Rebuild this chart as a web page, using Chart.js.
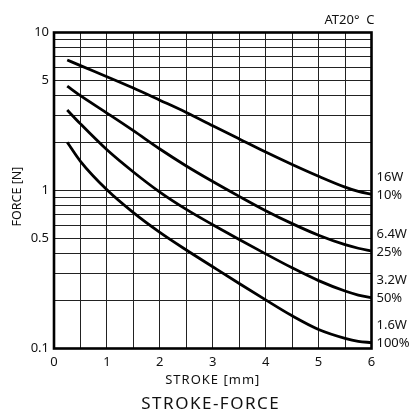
<!DOCTYPE html>
<html>
<head>
<meta charset="utf-8">
<script src="https://cdn.jsdelivr.net/npm/chart.js@4/dist/chart.umd.min.js"></script>
<style>
  html, body { margin: 0; padding: 0; background: #fff; }
  #wrap { width: 416px; height: 412px; }
</style>
</head>
<body>
<div id="wrap"><canvas id="c" width="416" height="412"></canvas></div>
<script>
// Stroke positions [mm] where each force curve is sampled
const stroke = [0.25, 0.5, 1, 1.5, 2, 2.5, 3, 3.5, 4, 4.5, 5, 5.5, 5.75, 6];

// Holding force [N] per power rating / duty cycle
const force16W = [6.70, 6.17, 5.25, 4.45, 3.73, 3.12, 2.57, 2.12, 1.75, 1.46, 1.23, 1.05, 0.986, 0.946];
const force6W4 = [4.58, 3.98, 3.09, 2.39, 1.83, 1.43, 1.14, 0.918, 0.745, 0.617, 0.521, 0.454, 0.431, 0.415];
const force3W2 = [3.23, 2.64, 1.81, 1.31, 0.977, 0.759, 0.607, 0.490, 0.397, 0.324, 0.269, 0.231, 0.218, 0.210];
const force1W6 = [2.02, 1.53, 1.01, 0.724, 0.543, 0.420, 0.329, 0.258, 0.203, 0.161, 0.132, 0.116, 0.111, 0.109];

const seriesNames = ['16W', '6.4W', '3.2W', '1.6W'];
const dutyCycles  = ['10%', '25%', '50%', '100%'];
const seriesData  = [force16W, force6W4, force3W2, force1W6];

// Axis ticks
const xTicks = [0, 0.5, 1, 1.5, 2, 2.5, 3, 3.5, 4, 4.5, 5, 5.5, 6];
const yTicks = [0.1, 0.2, 0.3, 0.4, 0.5, 0.6, 0.7, 0.8, 0.9,
                1, 2, 3, 4, 5, 6, 7, 8, 9, 10];
const yTickLabels = ['0.1', '0.5', '1', '5', '10'];

const FONT = '"Noto Sans", "Open Sans", sans-serif';

const datasets = seriesData.map((vals, i) => ({
  label: seriesNames[i] + ' ' + dutyCycles[i],
  data: stroke.map((s, k) => ({ x: s, y: vals[k] })),
  borderColor: '#000',
  borderWidth: 2.8,
  pointRadius: 0,
  fill: false,
  cubicInterpolationMode: 'monotone'
}));

const decor = {
  id: 'decor',
  beforeDraw(chart) {
    const ctx = chart.ctx;
    ctx.save();
    ctx.fillStyle = '#fff';
    ctx.fillRect(0, 0, chart.width, chart.height);
    ctx.restore();
  },
  afterDraw(chart) {
    const { ctx, chartArea: a, scales: { y } } = chart;
    ctx.save();
    // plot frame
    ctx.strokeStyle = '#000';
    ctx.lineWidth = 2.6;
    ctx.strokeRect(a.left, a.top, a.right - a.left, a.bottom - a.top);

    ctx.fillStyle = '#111';
    ctx.textBaseline = 'middle';

    // temperature note
    ctx.font = '13px ' + FONT;
    ctx.textAlign = 'right';
    ctx.fillText('AT20°  C', a.right + 3, a.top - 12);

    // series labels at the right end of each curve
    ctx.textAlign = 'left';
    seriesData.forEach((vals, i) => {
      const yEnd = y.getPixelForValue(vals[vals.length - 1]) + 1;
      ctx.fillText(seriesNames[i], a.right + 5, yEnd - 18);
      ctx.fillText(dutyCycles[i], a.right + 5, yEnd);
    });

    // y axis title
    ctx.save();
    ctx.translate(17, (a.top + a.bottom) / 2 + 6);
    ctx.rotate(-Math.PI / 2);
    ctx.textAlign = 'center';
    ctx.font = '12.5px ' + FONT;
    ctx.fillText('FORCE [N]', 0, 0);
    ctx.restore();

    // x axis title
    ctx.textAlign = 'center';
    ctx.font = '13px ' + FONT;
    ctx.letterSpacing = '1px';
    ctx.fillText('STROKE [mm]', (a.left + a.right) / 2, a.bottom + 32);

    // chart caption
    ctx.font = '17px ' + FONT;
    ctx.letterSpacing = '1.5px';
    ctx.fillText('STROKE-FORCE', (a.left + a.right) / 2 - 2, a.bottom + 56);
    ctx.restore();
  }
};

new Chart(document.getElementById('c'), {
  type: 'line',
  data: { datasets },
  options: {
    responsive: false,
    animation: false,
    events: [],
    layout: { padding: { left: 0, right: 44.5, top: 32.5, bottom: 0 } },
    plugins: { legend: { display: false }, title: { display: false }, tooltip: { enabled: false } },
    scales: {
      x: {
        type: 'linear',
        min: 0, max: 6,
        afterFit(s) { s.height = 63.5; },
        afterBuildTicks(s) { s.ticks = xTicks.map(v => ({ value: v })); },
        border: { display: false },
        grid: { color: '#222', lineWidth: 1, drawTicks: false },
        ticks: {
          autoSkip: false, maxRotation: 0, padding: 6,
          color: '#111',
          font: { family: FONT, size: 13 },
          callback: v => Number.isInteger(v) ? String(v) : ''
        }
      },
      y: {
        type: 'logarithmic',
        min: 0.1, max: 10,
        afterFit(s) { s.width = 54; },
        afterBuildTicks(s) { s.ticks = yTicks.map(v => ({ value: v })); },
        border: { display: false },
        grid: { color: '#222', lineWidth: 1, drawTicks: false },
        ticks: {
          autoSkip: false, padding: 5,
          color: '#111',
          font: { family: FONT, size: 13 },
          callback: v => {
            const t = String(+v.toFixed(2));
            return yTickLabels.includes(t) ? t : '';
          }
        }
      }
    }
  },
  plugins: [decor]
});
</script>
</body>
</html>
